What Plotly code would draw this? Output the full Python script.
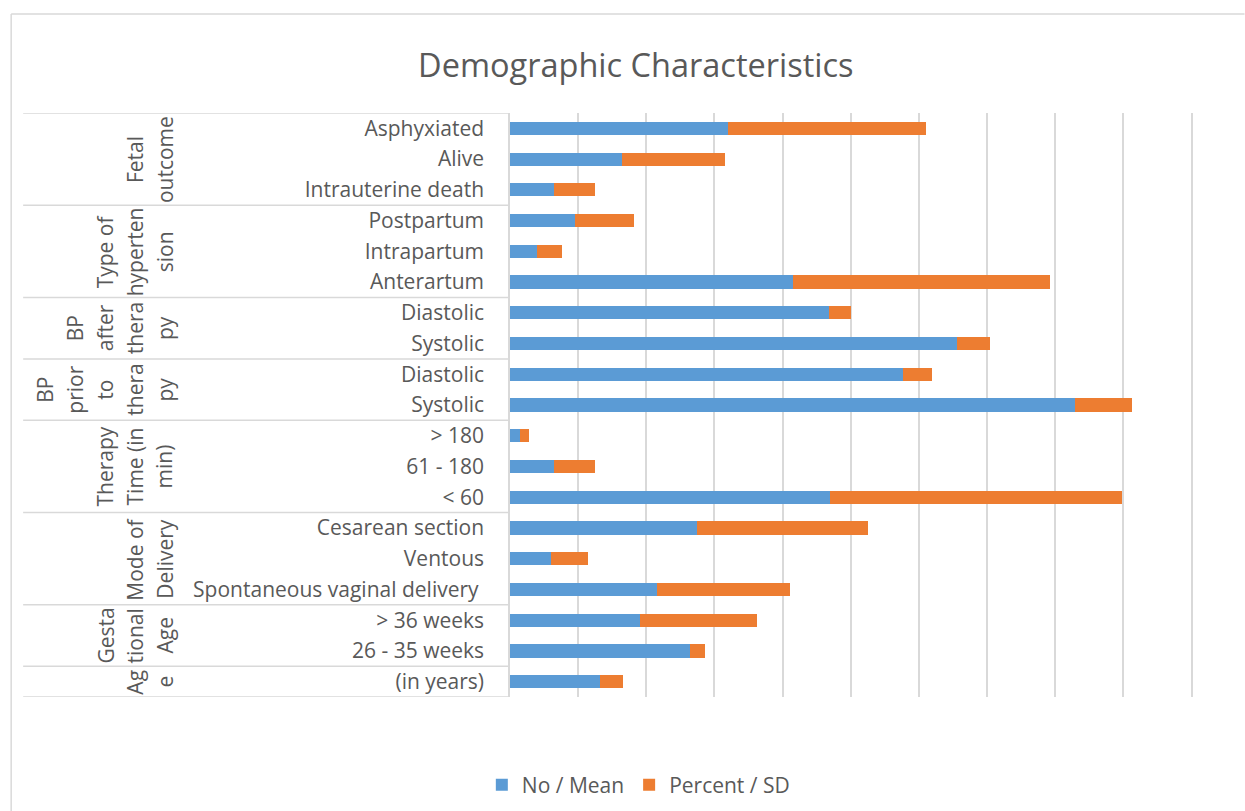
import plotly.graph_objects as go

# Row labels, bottom to top
categories = [
    "(in years)",
    "26 - 35 weeks", "> 36 weeks",
    "Spontaneous vaginal delivery\u00a0", "Ventous", "Cesarean section",
    "< 60", "61 - 180", "> 180",
    "Systolic", "Diastolic",
    "Systolic", "Diastolic",
    "Anterartum", "Intrapartum", "Postpartum",
    "Intrauterine death", "Alive", "Asphyxiated",
]
no_mean = [26.5, 52.8, 38, 43, 12, 55, 94, 13, 3, 165.7, 115.3, 131.1, 93.6, 83, 8, 19, 13, 33, 64]
pct_sd = [6.8, 4.5, 34.5, 39.1, 10.9, 50.0, 85.5, 11.8, 2.7, 16.7, 8.5, 9.6, 6.4, 75.5, 7.3, 17.3, 11.8, 30.0, 58.2]

# Group labels (wrapped as drawn) and number of rows in each group, bottom to top
group_lines = [
    ["Ag", "e"],
    ["Gesta", "tional", "Age"],
    ["Mode of", "Delivery"],
    ["Therapy", "Time (in", "min)"],
    ["BP", "prior", "to", "thera", "py"],
    ["BP", "after", "thera", "py"],
    ["Type of", "hyperten", "sion"],
    ["Fetal", "outcome"],
]
group_sizes = [1, 2, 3, 3, 2, 2, 3, 3]

series_names = ["No / Mean", "Percent / SD"]
series_colors = ["#5B9BD5", "#ED7D31"]

W_PX, H_PX = 1245, 811
X_MAX = 201.0
PLOT_L, PLOT_T, PLOT_B = 509.5, 113.0, 697.0
PLOT_R = PLOT_L + 682.5 * X_MAX / 200.0
TEXT = "#595959"
LINE = "#d9d9d9"
FONT = "Open Sans"
FS = 21


def px_x(px):
    return (px - PLOT_L) / (PLOT_R - PLOT_L)


def px_y(py):
    return (PLOT_B - py) / (PLOT_B - PLOT_T)


rows = list(range(len(categories)))

fig = go.Figure()
for name, vals, col in zip(series_names, [no_mean, pct_sd], series_colors):
    fig.add_trace(go.Bar(
        y=rows, x=vals, name=name, orientation="h",
        marker=dict(color=col, line=dict(width=0)),
    ))

shapes = []
annotations = []

# group separators and rotated group labels
start = 0
bounds = [-0.5]
for lines, n in zip(group_lines, group_sizes):
    top = start + n - 0.5
    bounds.append(top)
    center = start + (n - 1) / 2
    k = len(lines)
    for i, ln in enumerate(lines):
        xpx = 164 - 30 * (k - 1 - i)
        annotations.append(dict(
            text=ln, x=px_x(xpx), xref="paper", y=center, yref="y",
            textangle=-90, showarrow=False, xanchor="center", yanchor="middle",
            font=dict(family=FONT, size=FS, color=TEXT),
        ))
    start += n

for b in bounds:
    shapes.append(dict(type="line", xref="paper", yref="y",
                       x0=px_x(22), x1=0, y0=b, y1=b,
                       line=dict(color=LINE, width=1.5)))

# outer chart frame
shapes.append(dict(type="line", xref="paper", yref="paper",
                   x0=px_x(10), x1=px_x(10), y0=px_y(14), y1=px_y(811),
                   line=dict(color=LINE, width=1.5)))
shapes.append(dict(type="line", xref="paper", yref="paper",
                   x0=px_x(10), x1=px_x(1245), y0=px_y(14), y1=px_y(14),
                   line=dict(color=LINE, width=1.5)))

fig.update_layout(
    width=W_PX, height=H_PX,
    margin=dict(l=PLOT_L, r=W_PX - PLOT_R, t=PLOT_T, b=H_PX - PLOT_B, autoexpand=False),
    barmode="stack",
    bargap=0.57,
    plot_bgcolor="white",
    paper_bgcolor="white",
    font=dict(family=FONT, size=FS, color=TEXT),
    title=dict(text="Demographic Characteristics", xref="paper", x=px_x(635.5),
               xanchor="center", yref="container", y=1 - 66 / H_PX, yanchor="middle",
               font=dict(family=FONT, size=32.5, color=TEXT)),
    xaxis=dict(range=[0, X_MAX], dtick=20, showgrid=True, gridcolor=LINE, gridwidth=1.5,
               zeroline=False, showticklabels=False, ticks="", showline=False,
               fixedrange=True),
    yaxis=dict(range=[-0.5, len(categories) - 0.5], tickmode="array",
               tickvals=rows, ticktext=categories, ticks="", showgrid=False,
               zeroline=False, showline=True, linecolor=LINE, linewidth=1.5,
               ticklabelstandoff=20, tickfont=dict(family=FONT, size=FS, color=TEXT)),
    legend=dict(orientation="h", x=px_x(638), xanchor="center", y=px_y(785),
                yanchor="middle", font=dict(family=FONT, size=FS, color=TEXT),
                traceorder="normal"),
    shapes=shapes,
    annotations=annotations,
)

fig.write_html("out.html")
